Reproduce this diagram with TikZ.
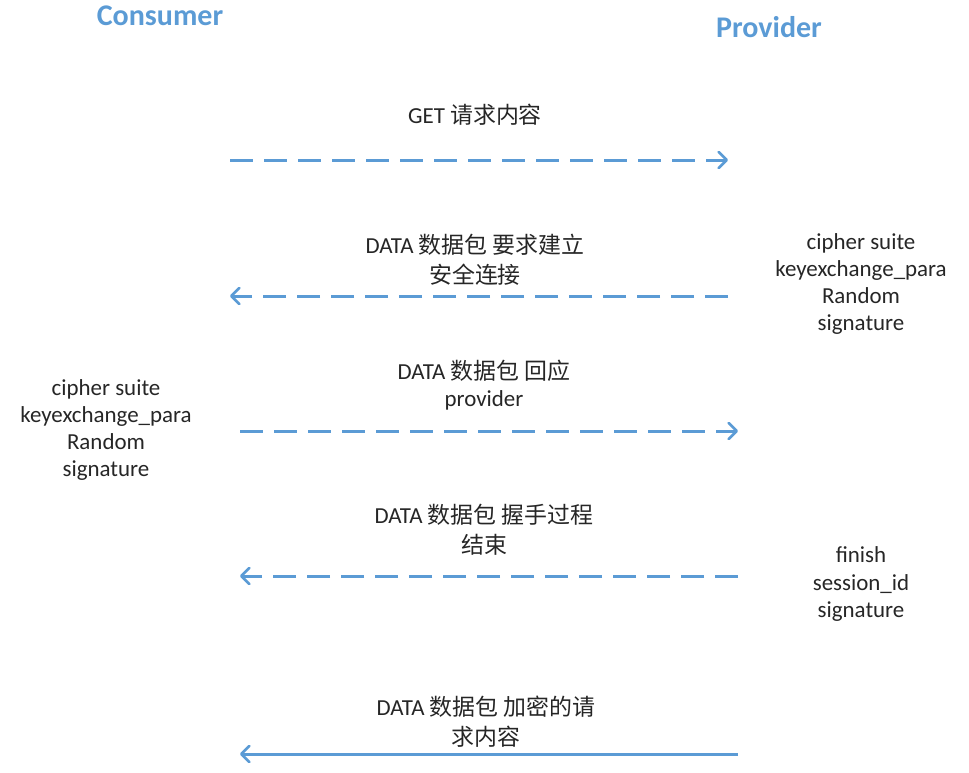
\documentclass[tikz,border=0pt]{standalone}
\usepackage{fontspec}
\setmainfont{Carlito}
\newfontfamily\cjk{Noto Sans CJK SC}
\usetikzlibrary{arrows.meta}
\definecolor{lineblue}{HTML}{5B9BD5}
\definecolor{txt}{HTML}{262626}
\tikzset{
  title/.style={font=\fontsize{22.5}{26}\selectfont\bfseries, text=lineblue, inner sep=0pt},
  lbl/.style={font=\fontsize{17.2}{20.3}\selectfont, text=txt, align=center, inner sep=0pt},
  msg/.style={draw=lineblue, line width=2.25pt, -{Straight Barb[length=6pt,width=12pt,line width=2pt,round]}},
  dmsg/.style={msg, dash pattern=on 17pt off 8.5pt},
}
\begin{document}
\begin{tikzpicture}[x=0.75pt,y=-0.75pt]
\useasboundingbox (0,0) rectangle (969,772);
\node[title] (cons) at (160,16) {Consumer};
\node[title] (prov) at (769,27) {Provider};

\node[lbl] (m1) at (475,115) {GET {\cjk 请求内容}};
\coordinate (a1s) at (230,160);
\coordinate (a1e) at (728,160);
\draw[dmsg] (a1s) -- (a1e);

\node[lbl] (m2) at (475,260) {DATA {\cjk 数据包 要求建立}\\[2pt]{\cjk 安全连接}};
\coordinate (a2s) at (728,296);
\coordinate (a2e) at (230,296);
\draw[dmsg] (a2s) -- (a2e);
\node[lbl] (p1) at (861,284) {cipher suite\\keyexchange\_para\\Random\\signature};

\node[lbl] (m3) at (484,385) {DATA {\cjk 数据包 回应}\\provider};
\coordinate (a3s) at (240,431);
\coordinate (a3e) at (738,431);
\draw[dmsg] (a3s) -- (a3e);
\node[lbl] (c1) at (106,430) {cipher suite\\keyexchange\_para\\Random\\signature};

\node[lbl] (m4) at (484,530) {DATA {\cjk 数据包 握手过程}\\[2pt]{\cjk 结束}};
\coordinate (a4s) at (738,576);
\coordinate (a4e) at (240,576);
\draw[dmsg] (a4s) -- (a4e);
\node[lbl] (p2) at (861,584) {finish\\session\_id\\signature};

\node[lbl] (m5) at (486,722) {DATA {\cjk 数据包 加密的请}\\[2pt]{\cjk 求内容}};
\coordinate (a5s) at (738,754);
\coordinate (a5e) at (240,754);
\draw[msg] (a5s) -- (a5e);
\end{tikzpicture}
\end{document}
